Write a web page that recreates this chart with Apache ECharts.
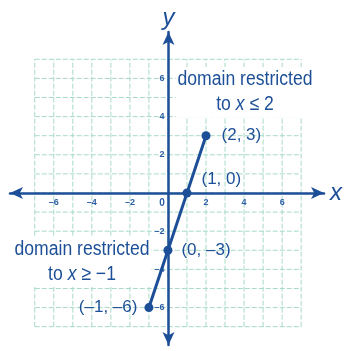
<!DOCTYPE html>
<html>
<head>
<meta charset="utf-8">
<script src="https://cdn.jsdelivr.net/npm/echarts@6/dist/echarts.min.js"></script>
<style>
  html, body { margin: 0; padding: 0; background: #fff; }
  #main { width: 345px; height: 351px; }
</style>
</head>
<body>
<div id="main"></div>
<script>
// 函数 y = 3x - 3 的四个点
const points = [[-1, -6], [0, -3], [1, 0], [2, 3]];
const pointLabels = ['(–1, –6)', '(0, –3)', '(1, 0)', '(2, 3)'];
// 网格线位置
const gridLines = [-7, -6, -5, -4, -3, -2, -1, 0, 1, 2, 3, 4, 5, 6, 7];
// 刻度标签
const xTicks = [-6, -4, -2, 0, 2, 4, 6];
const yTicks = [-6, -4, -2, 2, 4, 6];

const blue = '#1c4f97';
const gridColor = '#a8dac6';
const font = 'Liberation Sans';

const myChart = echarts.init(document.getElementById('main'));

// 点的标签位置
const labelPos = [
  { position: 'left', offset: [-2, 0] },
  { position: 'right', offset: [4, 0] },
  { position: 'right', offset: [5, -14] },
  { position: 'right', offset: [6, 0] }
];

const lineData = points.map((p, i) => ({
  value: p,
  label: {
    show: true,
    formatter: pointLabels[i],
    position: labelPos[i].position,
    offset: labelPos[i].offset
  }
}));

const richText = {
  n: { fontSize: 20, fontFamily: font, fill: blue, lineHeight: 25 },
  i: { fontSize: 20, fontFamily: font, fill: blue, fontStyle: 'italic', lineHeight: 25 }
};

const option = {
  animation: false,
  grid: { left: 10, right: 20, top: 32, bottom: 6 },
  xAxis: {
    type: 'value',
    min: -8.3,
    max: 8.2,
    z: 3,
    position: 'bottom',
    offset: -152,
    name: 'x',
    nameLocation: 'end',
    nameGap: 6,
    nameTextStyle: { color: blue, fontSize: 24, fontStyle: 'italic', fontFamily: font, verticalAlign: 'middle' },
    axisLine: {
      onZero: false,
      symbol: ['arrow', 'arrow'],
      symbolSize: [9, 13],
      lineStyle: { color: blue, width: 2.5 }
    },
    axisTick: { show: false },
    splitLine: { show: false },
    axisLabel: {
      customValues: xTicks,
      margin: 5,
      color: '#2c5ea6',
      fontSize: 9,
      fontWeight: 'bold',
      fontFamily: font,
      formatter: v => (v === 0 ? '{z|0}' : String(v).replace('-', '–')),
      rich: { z: { padding: [0, 12, 0, 0], fontSize: 10, fontWeight: 'bold', color: '#2c5ea6' } }
    }
  },
  yAxis: {
    type: 'value',
    min: -7.96,
    max: 8.43,
    z: 3,
    position: 'left',
    offset: -158.5,
    name: 'y',
    nameLocation: 'end',
    nameGap: 2,
    nameTextStyle: { color: blue, fontSize: 24, fontStyle: 'italic', fontFamily: font },
    axisLine: {
      onZero: false,
      symbol: ['arrow', 'arrow'],
      symbolSize: [9, 13],
      lineStyle: { color: blue, width: 2.5 }
    },
    axisTick: { show: false },
    splitLine: { show: false },
    axisLabel: {
      customValues: yTicks,
      margin: 4,
      color: '#2c5ea6',
      fontSize: 9,
      fontWeight: 'bold',
      fontFamily: font,
      formatter: v => String(v).replace('-', '–')
    }
  },
  series: [
    {
      // 虚线网格
      type: 'custom',
      silent: true,
      z: 1,
      data: gridLines,
      renderItem(params, api) {
        const v = api.value(0);
        const a = api.coord([v, -7]);
        const b = api.coord([v, 7]);
        const c = api.coord([-7, v]);
        const d = api.coord([7, v]);
        const style = { stroke: gridColor, lineWidth: 1, lineDash: [5, 2] };
        return {
          type: 'group',
          children: [
            { type: 'line', shape: { x1: a[0], y1: a[1], x2: b[0], y2: b[1] }, style },
            { type: 'line', shape: { x1: c[0], y1: c[1], x2: d[0], y2: d[1] }, style }
          ]
        };
      }
    },
    {
      type: 'line',
      z: 5,
      data: lineData,
      symbol: 'circle',
      symbolSize: 9,
      itemStyle: { color: blue },
      lineStyle: { color: blue, width: 3 },
      label: { color: blue, fontSize: 17, fontFamily: font }
    }
  ],
  graphic: [
    {
      type: 'text',
      z: 4,
      x: 245,
      y: 67,
      scaleX: 0.88,
      style: {
        text: '{n|domain restricted}\n{n|to }{i|x}{n| ≤ 2}',
        align: 'center',
        backgroundColor: '#fff',
        padding: [0, 2],
        rich: richText
      }
    },
    {
      type: 'text',
      z: 4,
      x: 82,
      y: 237,
      scaleX: 0.88,
      style: {
        text: '{n|domain restricted}\n{n|to }{i|x}{n| ≥ −1}',
        align: 'center',
        backgroundColor: '#fff',
        padding: [0, 2],
        rich: richText
      }
    }
  ]
};

myChart.setOption(option);
</script>
</body>
</html>
